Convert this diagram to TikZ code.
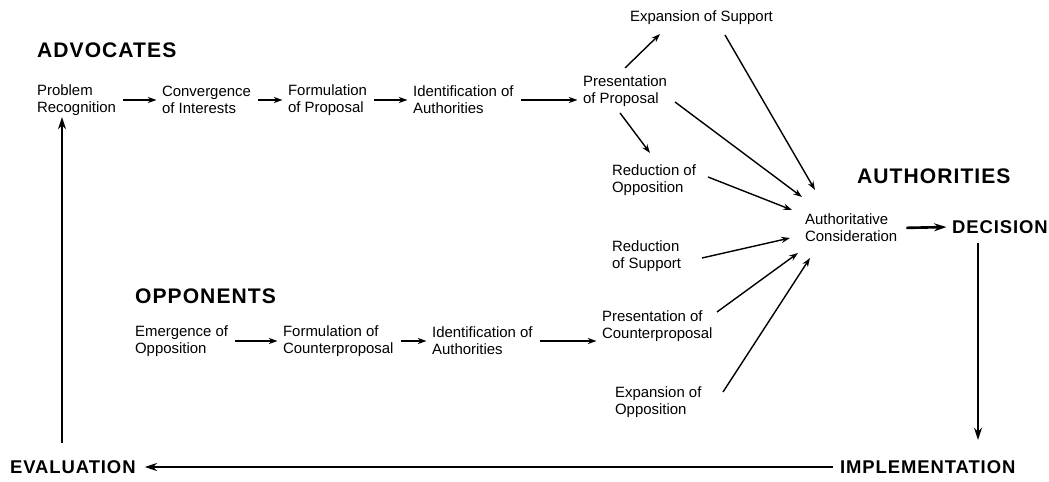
\documentclass[tikz,border=0pt]{standalone}
\usepackage{fontspec}
\setmainfont{Liberation Sans}
\newfontfamily\headfont[LetterSpace=5]{Liberation Sans}
\usetikzlibrary{arrows.meta}

\begin{document}
\begin{tikzpicture}[x=0.02cm,y=-0.02cm,
  stage/.style={anchor=west,align=left,inner sep=1pt,font=\fontsize{8.5}{9.5}\selectfont},
  grouplabel/.style={anchor=west,inner sep=1pt,font=\headfont\bfseries\fontsize{12}{14}\selectfont},
  phase/.style={anchor=west,inner sep=1pt,font=\headfont\bfseries\fontsize{10.5}{12}\selectfont},
  flow/.style={-{Stealth[length=5pt,width=3.5pt]},line width=1pt,shorten <=3pt,shorten >=2pt},
  feed/.style={-{Stealth[length=5pt,width=3.5pt]},line width=0.8pt},
  loopline/.style={-{Stealth[length=7pt,width=4.5pt]},line width=1.5pt}]
\useasboundingbox (0,0) rectangle (1049,482);

% group headings
\node[grouplabel] (adv) at (35,50) {ADVOCATES};
\node[grouplabel] (opp) at (133,296) {OPPONENTS};
\node[grouplabel] (aut) at (855,176) {AUTHORITIES};

% advocates
\node[stage] (pr) at (35,100) {Problem\\Recognition};
\node[stage] (ci) at (160,100) {Convergence\\of Interests};
\node[stage] (fp) at (286,100) {Formulation\\of Proposal};
\node[stage] (ia) at (411,100) {Identification of\\Authorities};
\node[stage] (pp) at (581,91) {Presentation\\of Proposal};
\node[stage] (es) at (628,18) {Expansion of Support};
\node[stage] (ro) at (610,180) {Reduction of\\Opposition};

% authorities
\node[stage] (rs) at (610,256) {Reduction\\of Support};
\node[stage] (ac) at (803,228) {Authoritative\\Consideration};
\node[phase] (dec) at (950,227) {DECISION};
\node[phase] (imp) at (838,467) {IMPLEMENTATION};
\node[phase] (eva) at (8,467) {EVALUATION};

% opponents
\node[stage] (eo) at (133,341) {Emergence of\\Opposition};
\node[stage] (fc) at (281,341) {Formulation of\\Counterproposal};
\node[stage] (io) at (430,341) {Identification of\\Authorities};
\node[stage] (pc) at (600,326) {Presentation of\\Counterproposal};
\node[stage] (ex) at (613,402) {Expansion of\\Opposition};

% chains
\draw[flow] (pr) -- (ci);
\draw[flow] (ci) -- (fp);
\draw[flow] (fp) -- (ia);
\draw[flow] (ia.east) -- (ia.east -| pp.west);
\draw[flow] (eo) -- (fc);
\draw[flow] (fc) -- (io);
\draw[flow] (io.east) -- (io.east -| pc.west);

% towards the authorities
\draw[feed] ([shift={(44,-23)}]pp.west) -- ([shift={(32,16)}]es.west);
\draw[feed] ([shift={(39,22)}]pp.west) -- ([shift={(40,-27)}]ro.west);
\draw[feed] ([shift={(97,17)}]es.west) -- ([shift={(12,-38)}]ac.west);
\draw[feed] ([shift={(94,11)}]pp.west) -- ([shift={(-1,-31)}]ac.west);
\draw[feed] ([shift={(98,-3)}]ro.west) -- ([shift={(-11,-18)}]ac.west);
\draw[feed] ([shift={(92,2)}]rs.west) -- ([shift={(-13,10)}]ac.west);
\draw[feed] ([shift={(117,-14)}]pc.west) -- ([shift={(-5,25)}]ac.west);
\draw[feed] ([shift={(110,-10)}]ex.west) -- ([shift={(7,30)}]ac.west);

% policy cycle
\draw[loopline,shorten <=4pt,shorten >=2pt] (ac.east) -- (dec.west);
\draw[loopline] ([shift={(28,16)}]dec.west) -- ([shift={(140,-27)}]imp.west);
\draw[loopline,shorten <=3pt,shorten >=4pt] (imp.west) -- (eva.east);
\draw[loopline] ([shift={(54,-24)}]eva.west) -- ([shift={(27,17)}]pr.west);
\end{tikzpicture}
\end{document}
